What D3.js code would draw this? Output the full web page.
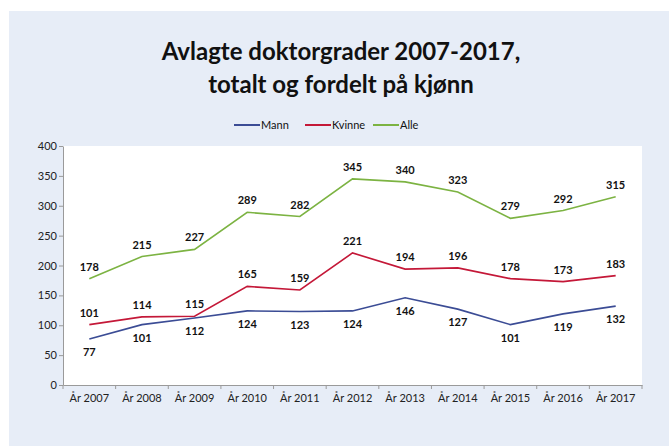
<!DOCTYPE html>
<html><head><meta charset="utf-8">
<script src="https://cdn.jsdelivr.net/npm/d3@7"></script>
<style>body{margin:0;background:#fff}svg{display:block}text{font-family:Lato,"Open Sans",sans-serif}</style>
</head><body>
<svg id="c" width="669" height="446"></svg>
<script>
const categories = ["År 2007","År 2008","År 2009","År 2010","År 2011","År 2012","År 2013","År 2014","År 2015","År 2016","År 2017"];
const mann   = [77,101,112,124,123,124,146,127,101,119,132];
const kvinne = [101,114,115,165,159,221,194,196,178,173,183];
const alle   = [178,215,227,289,282,345,340,323,279,292,315];
const yTicks = [0,50,100,150,200,250,300,350,400];
const seriesNames = ["Mann","Kvinne","Alle"];

const svg = d3.select("#c");
svg.append("rect").attr("x",9).attr("y",11).attr("width",660).attr("height",435).attr("fill","#e7edf7");

svg.append("text").attr("x",341).attr("y",60).attr("text-anchor","middle")
  .attr("font-size",24).attr("font-weight","bold").attr("fill","#111").text("Avlagte doktorgrader 2007-2017,");
svg.append("text").attr("x",341).attr("y",93).attr("text-anchor","middle")
  .attr("font-size",24).attr("font-weight","bold").attr("fill","#111").text("totalt og fordelt på kjønn");

const m = {l:63, r:642, t:146, b:385};
const x = d3.scaleBand().domain(categories).range([m.l,m.r]);
const y = d3.scaleLinear().domain([0,400]).range([m.b,m.t]);

svg.append("rect").attr("x",m.l).attr("y",m.t).attr("width",m.r-m.l).attr("height",m.b-m.t).attr("fill","#fff");

const series = [
  {name:"Mann", values:mann, color:"#3b4c95", pos:"below"},
  {name:"Kvinne", values:kvinne, color:"#c41838", pos:"above"},
  {name:"Alle", values:alle, color:"#7cb342", pos:"above"}
];

// y axis
const ya = svg.append("g").attr("transform",`translate(${m.l},0)`)
  .call(d3.axisLeft(y).tickValues(yTicks).tickSize(4).tickSizeOuter(0));
ya.select(".domain").attr("stroke","#9a9a9a");
ya.selectAll(".tick line").attr("stroke","#9a9a9a");
ya.selectAll(".tick text").attr("font-size",11).attr("fill","#222").attr("x",-6);

// x axis
const xa = svg.append("g").attr("transform",`translate(0,${m.b})`)
  .call(d3.axisBottom(x).tickSize(0).tickSizeOuter(0));
xa.select(".domain").attr("stroke","#9a9a9a");
xa.selectAll(".tick text").attr("font-size",11).attr("fill","#222").attr("dy","1.0em").attr("y",6);
const bounds = categories.map(c=>x(c)).concat([x(categories[categories.length-1])+x.bandwidth()]);
xa.selectAll(".bt").data(bounds).enter().append("line")
  .attr("x1",d=>d).attr("x2",d=>d).attr("y1",0).attr("y2",4).attr("stroke","#9a9a9a");

const line = d3.line().x((d,i)=>x(categories[i])+x.bandwidth()/2).y(d=>y(d));
series.forEach(s=>{
  svg.append("path").datum(s.values).attr("d",line).attr("fill","none")
    .attr("stroke",s.color).attr("stroke-width",1.6);
  svg.selectAll(null).data(s.values).enter().append("text")
    .attr("x",(d,i)=>x(categories[i])+x.bandwidth()/2)
    .attr("y",d=> s.pos==="above" ? y(d)-8 : y(d)+17)
    .attr("text-anchor","middle").attr("font-size",11).attr("font-weight","bold").attr("fill","#111")
    .text(d=>d);
});

// legend
const legX = [234,305,373];
series.forEach((s,i)=>{
  svg.append("line").attr("x1",legX[i]).attr("x2",legX[i]+26).attr("y1",125).attr("y2",125)
    .attr("stroke",s.color).attr("stroke-width",2);
  svg.append("text").attr("x",legX[i]+27).attr("y",129).attr("font-size",11).attr("fill","#111").text(seriesNames[i]);
});
</script>
</body></html>
